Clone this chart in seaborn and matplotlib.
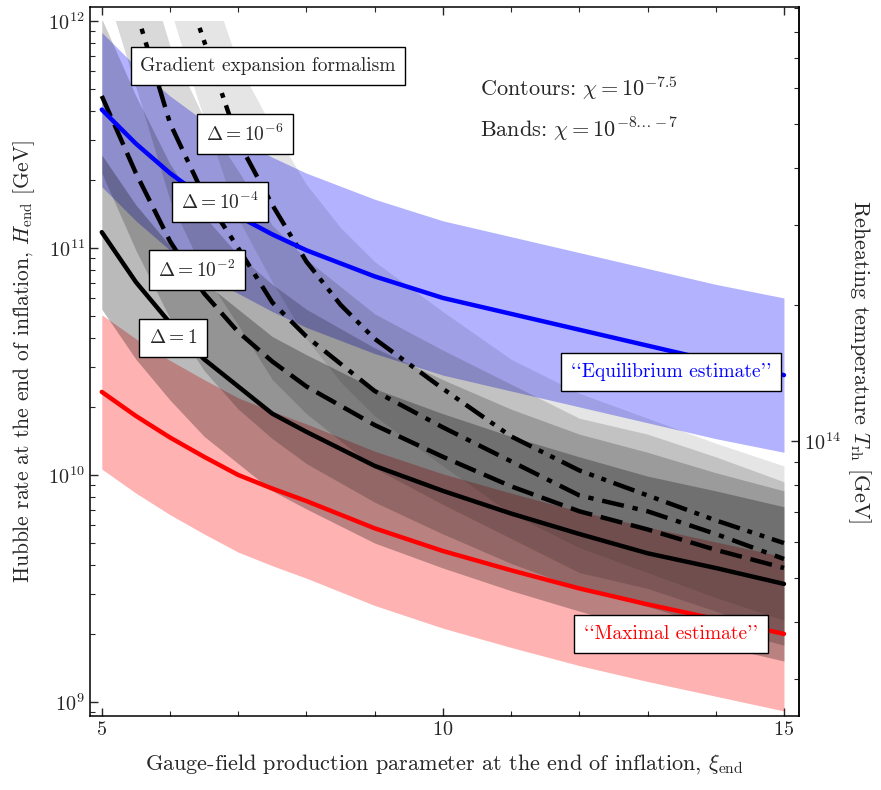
import numpy as np
import pandas as pd
import seaborn as sns
import matplotlib.pyplot as plt
from matplotlib.patches import Rectangle
from matplotlib.ticker import MultipleLocator, NullFormatter

# values (log10 of H_end in GeV)
xi_grid = [5, 5.5, 6, 6.5, 7, 7.5, 8, 9, 10, 11, 12, 13, 14, 15]
log_h_equilibrium = [11.61, 11.46, 11.33, 11.22, 11.14, 11.06, 10.99, 10.875, 10.78, 10.71, 10.64, 10.57, 10.50, 10.44]
log_h_maximal = [10.366, 10.26, 10.165, 10.08, 10.00, 9.94, 9.885, 9.765, 9.665, 9.58, 9.50, 9.43, 9.365, 9.30]
log_h_delta_1 = [11.07, 10.85, 10.67, 10.51, 10.39, 10.27, 10.19, 10.04, 9.93, 9.83, 9.74, 9.655, 9.59, 9.52]
log_h_delta_1e2 = [11.67, 11.33, 11.03, 10.80, 10.63, 10.50, 10.39, 10.22, 10.08, 9.95, 9.84, 9.76, 9.67, 9.59]
xi_delta_1e4 = [5.2, 5.55, 6, 6.5, 7, 7.5, 8, 9, 10, 11, 12, 13, 14, 15]
log_h_delta_1e4 = [12.34, 12.0, 11.55, 11.23, 11.0, 10.76, 10.61, 10.37, 10.21, 10.06, 9.91, 9.84, 9.74, 9.63]
xi_delta_1e6 = [6.06, 6.4, 7, 7.5, 8, 8.5, 9, 10, 11, 12, 13, 14, 15]
log_h_delta_1e6 = [12.34, 12.0, 11.47, 11.19, 10.94, 10.75, 10.60, 10.38, 10.17, 10.02, 9.91, 9.80, 9.70]
band_half_width = 0.34  # decades, chi from 1e-8 to 1e-7 around 1e-7.5

sns.set_theme(style='ticks')
plt.rcParams['font.family'] = ['cmr10', 'DejaVu Serif']
plt.rcParams['mathtext.fontset'] = 'cm'
plt.rcParams['axes.formatter.use_mathtext'] = True
plt.rcParams['axes.unicode_minus'] = False
plt.rcParams['font.size'] = 14

contours = pd.concat([
    pd.DataFrame({'xi': xi_grid, 'logH': log_h_delta_1, 'delta': '1'}),
    pd.DataFrame({'xi': xi_grid, 'logH': log_h_delta_1e2, 'delta': '1e-2'}),
    pd.DataFrame({'xi': xi_delta_1e4, 'logH': log_h_delta_1e4, 'delta': '1e-4'}),
    pd.DataFrame({'xi': xi_delta_1e6, 'logH': log_h_delta_1e6, 'delta': '1e-6'}),
], ignore_index=True)
contours['H'] = 10 ** contours['logH']
estimates = pd.DataFrame({'xi': xi_grid,
                          'equilibrium': 10 ** np.array(log_h_equilibrium),
                          'maximal': 10 ** np.array(log_h_maximal)})

fig = plt.figure(figsize=(8.81, 7.9), dpi=100)
ax = fig.add_axes([0.1016, 0.0937, 0.8053, 0.8974])
ax.set_yscale('log')
ylo, yhi = 10 ** 8.938, 10 ** 12.062
xlo, xhi = 4.82, 15.22

# bands: red and blue first, then the grey contour bands
w = 10 ** band_half_width
ax.fill_between(estimates['xi'], estimates['maximal'] / w, estimates['maximal'] * w,
                color='red', alpha=0.3, lw=0)
ax.fill_between(estimates['xi'], estimates['equilibrium'] / w, estimates['equilibrium'] * w,
                color='blue', alpha=0.3, lw=0)
grey_alpha = {'1': 0.27, '1e-2': 0.2, '1e-4': 0.15, '1e-6': 0.1}
for d, sub in contours.groupby('delta'):
    ax.fill_between(sub['xi'], sub['H'] / w, sub['H'] * w, color='black',
                    alpha=grey_alpha[d], lw=0)

dash_map = {'1': '', '1e-2': (5, 2), '1e-4': (5, 2, 1.2, 2), '1e-6': (5, 1.8, 1.1, 1.8, 1.1, 1.8)}
sns.lineplot(data=contours, x='xi', y='H', style='delta', dashes=dash_map, color='black',
             lw=3.2, legend=False, errorbar=None, ax=ax)
sns.lineplot(data=estimates, x='xi', y='equilibrium', color='blue', lw=3.2, errorbar=None, ax=ax)
sns.lineplot(data=estimates, x='xi', y='maximal', color='red', lw=3.2, errorbar=None, ax=ax)

clip = Rectangle((xlo, ylo), xhi - xlo, 1e12 - ylo, transform=ax.transData)
for artist in ax.lines + ax.collections:
    artist.set_clip_path(clip)

ax.set_xlim(xlo, xhi)
ax.set_ylim(ylo, yhi)
ax.xaxis.set_major_locator(MultipleLocator(5))
ax.xaxis.set_minor_locator(MultipleLocator(1))
ax.tick_params(which='both', direction='in', top=True, right=False, labelsize=14.5)
ax.tick_params(which='major', length=6, width=1)
ax.tick_params(which='minor', length=3.5, width=0.8)
for s in ax.spines.values():
    s.set_linewidth(1.1)
    s.set_color('black')

ax.set_xlabel(r'Gauge-field production parameter at the end of inflation, $\xi_{\rm end}$',
              fontsize=16, labelpad=10)
ax.set_ylabel(r'Hubble rate at the end of inflation, $H_{\rm end}$ [GeV]', fontsize=15.5,
              labelpad=8)

# reheating temperature, T = (90 / pi^2 g*)^(1/4) sqrt(H M_P)
c_t = (90 / (np.pi ** 2 * 106.75)) ** 0.25 * np.sqrt(2.435e18)
sec = ax.secondary_yaxis('right', functions=(lambda h: c_t * np.sqrt(np.abs(h)),
                                             lambda t: (t / c_t) ** 2))
sec.tick_params(which='both', direction='in', labelsize=14.5)
sec.tick_params(which='major', length=6, width=1)
sec.tick_params(which='minor', length=3.5, width=0.8)
sec.yaxis.set_minor_formatter(NullFormatter())
sec.set_ylabel(r'Reheating temperature $T_{\rm rh}$ [GeV]', rotation=270, va='bottom',
               fontsize=16, labelpad=4)

box = dict(boxstyle='square,pad=0.5', fc='white', ec='black', lw=1)
ax.text(0.2516, 0.9168, 'Gradient expansion formalism', transform=ax.transAxes,
        ha='center', va='center', bbox=box)
ax.text(0.2192, 0.8209, r'$\Delta = 10^{-6}$', transform=ax.transAxes, ha='center', va='center', bbox=box)
ax.text(0.1839, 0.725, r'$\Delta = 10^{-4}$', transform=ax.transAxes, ha='center', va='center', bbox=box)
ax.text(0.1515, 0.629, r'$\Delta = 10^{-2}$', transform=ax.transAxes, ha='center', va='center', bbox=box)
ax.text(0.1177, 0.5331, r'$\Delta = 1$', transform=ax.transAxes, ha='center', va='center', bbox=box)
ax.text(0.690, 0.8858, r'Contours: $\chi = 10^{-7.5}$', transform=ax.transAxes, ha='center',
        va='center', fontsize=16)
ax.text(0.690, 0.8265, r'Bands: $\chi = 10^{-8\ldots-7}$', transform=ax.transAxes, ha='center',
        va='center', fontsize=16)
ax.text(0.8196, 0.4852, "``Equilibrium estimate''", transform=ax.transAxes, ha='center', va='center',
        color='blue', bbox=box)
ax.text(0.8196, 0.1157, "``Maximal estimate''", transform=ax.transAxes, ha='center', va='center',
        color='red', bbox=box)

fig.savefig('out.png', dpi=100)
